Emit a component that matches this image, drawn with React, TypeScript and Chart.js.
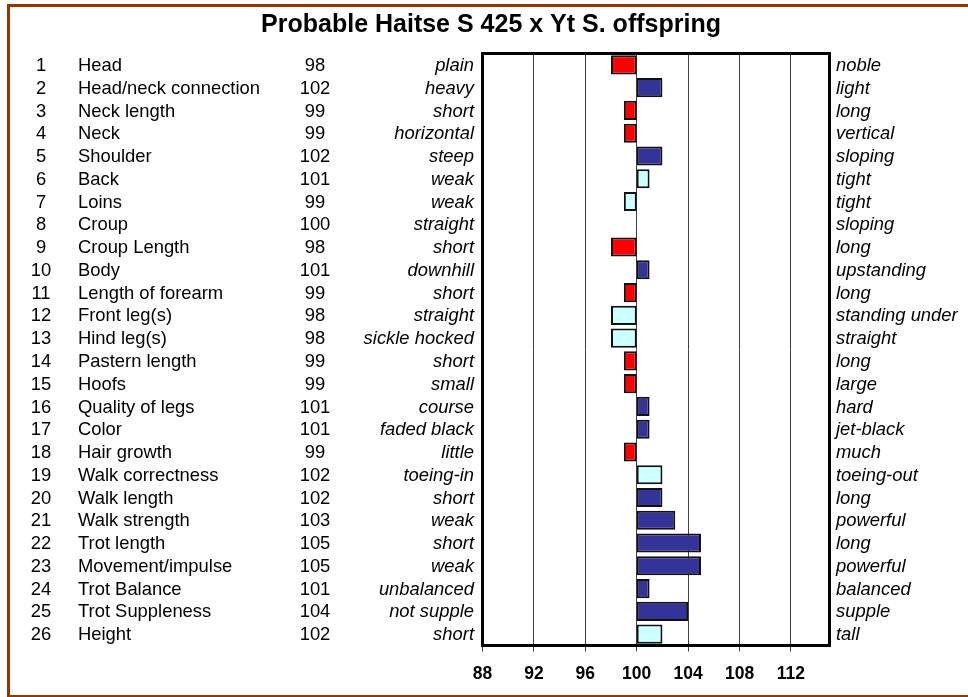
import React, { useEffect, useRef } from "react";
import { Chart, registerables } from "chart.js";

Chart.register(...registerables);

const TITLE = "Probable Haitse S 425 x Yt S. offspring";

const traits = [
  "Head", "Head/neck connection", "Neck length", "Neck", "Shoulder", "Back", "Loins", "Croup",
  "Croup Length", "Body", "Length of forearm", "Front leg(s)", "Hind leg(s)", "Pastern length",
  "Hoofs", "Quality of legs", "Color", "Hair growth", "Walk correctness", "Walk length",
  "Walk strength", "Trot length", "Movement/impulse", "Trot Balance", "Trot Suppleness", "Height",
];

const values = [98, 102, 99, 99, 102, 101, 99, 100, 98, 101, 99, 98, 98, 99, 99, 101, 101, 99, 102, 102, 103, 105, 105, 101, 104, 102];

const lowLabels = [
  "plain", "heavy", "short", "horizontal", "steep", "weak", "weak", "straight", "short", "downhill",
  "short", "straight", "sickle hocked", "short", "small", "course", "faded black", "little",
  "toeing-in", "short", "weak", "short", "weak", "unbalanced", "not supple", "short",
];

const highLabels = [
  "noble", "light", "long", "vertical", "sloping", "tight", "tight", "sloping", "long", "upstanding",
  "long", "standing under", "straight", "long", "large", "hard", "jet-black", "much", "toeing-out",
  "long", "powerful", "long", "powerful", "balanced", "supple", "tall",
];

// r = red, b = dark blue, c = light cyan
const colorCodes = ["r", "b", "r", "r", "b", "c", "c", "c", "r", "b", "r", "c", "c", "r", "r", "b", "b", "r", "c", "b", "b", "b", "b", "b", "b", "c"];

const BASE = 100;
const X_MIN = 88;
const X_MAX = 115;
const X_STEP = 4;

const palette: Record<string, string> = { r: "#FF0000", b: "#333399", c: "#CCFFFF" };
const FONT = '"Liberation Sans", Arial, Helvetica, sans-serif';

const sidePlugin = {
  id: "sideText",
  beforeDraw(chart: any) {
    const ctx = chart.ctx;
    ctx.save();
    ctx.fillStyle = "#ffffff";
    ctx.fillRect(0, 0, chart.width, chart.height);
    ctx.strokeStyle = "#993300";
    ctx.lineWidth = 3;
    ctx.strokeRect(8.5, 5.5, 1000, 691);
    ctx.fillStyle = "#000";
    ctx.font = `bold 25px ${FONT}`;
    ctx.textAlign = "center";
    ctx.textBaseline = "alphabetic";
    ctx.fillText(TITLE, 491, 31.5);
    ctx.restore();
  },
  afterDatasetsDraw(chart: any) {
    const { ctx, chartArea } = chart;
    ctx.save();
    ctx.strokeStyle = "#000";
    ctx.lineWidth = 3;
    ctx.strokeRect(chartArea.left, chartArea.top, chartArea.right - chartArea.left, chartArea.bottom - chartArea.top);
    ctx.restore();
  },
  afterDraw(chart: any) {
    const { ctx } = chart;
    const yScale = chart.scales.y;
    ctx.save();
    ctx.fillStyle = "#000";
    ctx.textBaseline = "middle";
    traits.forEach((name, i) => {
      const y = yScale.getPixelForValue(i) + 1;
      ctx.font = `18.4px ${FONT}`;
      ctx.textAlign = "center";
      ctx.fillText(String(i + 1), 41, y);
      ctx.textAlign = "left";
      ctx.fillText(name, 78, y);
      ctx.textAlign = "center";
      ctx.fillText(String(values[i]), 315, y);
      ctx.font = `italic 18.4px ${FONT}`;
      ctx.textAlign = "right";
      ctx.fillText(lowLabels[i], 474, y);
      ctx.textAlign = "left";
      ctx.fillText(highLabels[i], 836, y);
    });
    ctx.restore();
  },
};

export default function App() {
  const ref = useRef<HTMLCanvasElement | null>(null);
  useEffect(() => {
    if (!ref.current) return;
    const chart = new Chart(ref.current, {
      type: "bar",
      data: {
        labels: traits,
        datasets: [
          {
            data: values.map((v) => [BASE, v]) as any,
            backgroundColor: colorCodes.map((c) => palette[c]),
            borderColor: "#111111",
            borderWidth: 2,
            borderSkipped: false,
            barPercentage: 0.84,
            categoryPercentage: 1,
          },
        ],
      },
      options: {
        indexAxis: "y",
        responsive: false,
        animation: false,
        devicePixelRatio: 1,
        layout: { padding: { left: 482.5, right: 138.5, top: 53.5, bottom: 0 } },
        plugins: { legend: { display: false }, tooltip: { enabled: false }, title: { display: false } },
        scales: {
          x: {
            type: "linear",
            position: "bottom",
            min: X_MIN,
            max: X_MAX,
            ticks: {
              stepSize: X_STEP,
              includeBounds: false,
              color: "#000",
              font: { family: FONT, size: 17.5, weight: "bold" },
              padding: 12,
              maxRotation: 0,
              autoSkip: false,
            },
            grid: { color: "#404040", lineWidth: 1, tickLength: 6, drawTicks: true },
            border: { display: false },
            afterFit: (scale: any) => {
              scale.height = 51.5;
            },
          },
          y: { display: false, offset: true, grid: { display: false } },
        },
      },
      plugins: [sidePlugin],
    } as any);
    return () => chart.destroy();
  }, []);
  return (
    <div style={{ position: "fixed", left: 0, top: 0, width: 968, height: 697 }}>
      <canvas ref={ref} width={968} height={697} style={{ width: 968, height: 697, display: "block" }} />
    </div>
  );
}
